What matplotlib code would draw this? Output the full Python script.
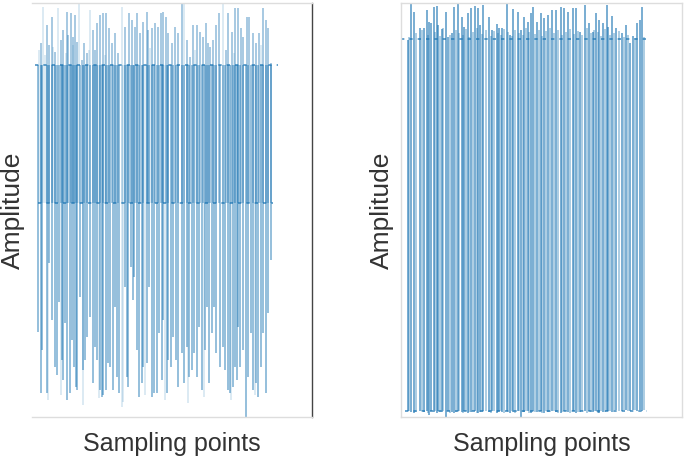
import matplotlib

matplotlib.use("Agg")
import matplotlib.pyplot as plt

plt.rcParams["font.family"] = ["Liberation Sans", "DejaVu Sans"]

# ---- left panel: three-level signal (upper level, middle level, deep troughs)
left_upper_level = 1.40
left_mid_level = 0.02

left_peak_x = [57, 117, 143, 167, 200, 260, 283, 317, 333, 357, 377, 400, 423,
               467, 490, 523, 577, 600, 623, 650, 683, 710, 743, 767, 800, 833,
               900, 943, 967, 1000, 1017, 1050, 1083, 1117, 1133, 1167, 1200,
               1233, 1257, 1283, 1307, 1333, 1367, 1400, 1433, 1467, 1517, 1550,
               1577, 1617, 1650, 1677, 1710, 1733, 1750, 1777, 1810, 1843, 1910,
               1933, 1967, 2000, 2033, 2057, 2083, 2117, 2143, 2183, 2210, 2243,
               2277, 2310, 2333, 2357]
left_peak_amp = [1.62, 1.80, 1.60, 1.88, 1.53, 1.65, 1.75, 1.93, 1.70, 1.92,
                 1.68, 1.90, 1.63, 1.45, 1.62, 1.52, 1.75, 1.55, 1.82, 1.90,
                 1.92, 1.92, 1.77, 1.62, 1.72, 1.52, 1.78, 1.92, 1.85, 1.78,
                 1.92, 1.72, 1.83, 1.93, 1.75, 1.77, 1.82, 1.78, 1.92, 1.93,
                 1.88, 1.72, 1.62, 1.78, 1.72, 2.03, 1.65, 1.48, 1.80, 1.80,
                 1.73, 1.68, 1.82, 1.62, 1.58, 1.65, 1.80, 1.92, 1.55, 1.92,
                 1.73, 1.97, 1.97, 1.77, 1.68, 1.88, 1.88, 1.72, 1.62, 1.72,
                 1.97, 1.85, 1.77, 1.42]
left_faint_peak_x = [83, 233, 440, 550, 867, 1490, 1877, 40, 100, 180, 310,
                     380, 540, 700, 1150, 1600, 1990, 2260]
left_faint_peak_amp = [1.98, 1.97, 2.02, 1.95, 1.98, 2.02, 2.02, 1.55, 1.50,
                       1.58, 1.52, 1.60, 1.55, 1.50, 1.57, 1.55, 1.52, 1.60]

left_trough_x = [33, 57, 67, 117, 143, 167, 200, 223, 243, 267, 283, 300, 317,
                 350, 367, 390, 410, 423, 450, 477, 500, 523, 550, 577, 600,
                 617, 650, 667, 683, 710, 733, 750, 783, 800, 817, 843, 900,
                 917, 933, 957, 977, 990, 1017, 1043, 1067, 1083, 1117, 1143,
                 1167, 1190, 1217, 1243, 1267, 1283, 1317, 1333, 1357, 1383,
                 1410, 1433, 1467, 1490, 1517, 1543, 1567, 1590, 1617, 1643,
                 1667, 1700, 1717, 1743, 1767, 1790, 1810, 1850, 1877, 1900,
                 1933, 1950, 1977, 2000, 2017, 2033, 2050, 2083, 2110, 2133,
                 2157, 2183, 2210, 2233, 2257, 2283, 2310, 2333, 2357]
left_trough_amp = [-1.27, -1.88, -1.45, -1.88, -0.58, -1.15, -1.62, -1.70,
                   -0.97, -1.55, -1.75, -1.18, -1.95, -1.88, -1.35, -1.62,
                   -1.82, -1.85, -0.92, -1.65, -1.55, -1.32, -1.12, -1.78,
                   -1.42, -1.55, -1.85, -1.92, -1.90, -1.85, -1.58, -1.62,
                   -1.85, -1.02, -1.72, -1.88, -0.82, -1.72, -1.82, -0.62,
                   -0.95, -0.72, -1.45, -1.92, -1.78, -1.62, -1.58, -0.82,
                   -1.92, -1.88, -1.88, -1.28, -1.75, -1.15, -1.88, -1.55,
                   -1.62, -1.32, -1.55, -1.82, -1.48, -1.78, -1.42, -1.72,
                   -1.65, -1.48, -1.72, -1.22, -1.85, -1.45, -1.02, -1.78,
                   -1.28, -1.02, -1.48, -1.62, -1.42, -1.65, -1.85, -1.88,
                   -1.82, -1.62, -1.75, -1.22, -1.62, -1.45, -2.12, -1.72,
                   -1.28, -1.85, -1.78, -1.92, -1.62, -1.28, -1.88, -1.08,
                   -0.55]
left_faint_trough_x = [867, 130, 265, 480, 640, 880, 1100, 1300, 1530, 1690,
                       1960, 2200]
left_faint_trough_amp = [-2.02, -1.95, -1.90, -2.00, -1.93, -1.97, -1.90,
                         -1.95, -1.98, -1.92, -1.95, -1.90]
left_span = [0, 2430]
left_mid_span = [30, 2380]

# ---- right panel: two-level signal (upper level with overshoot, lower level)
right_upper_level = 1.865
right_lower_level = -1.855

right_x = [27, 60, 93, 150, 193, 217, 243, 260, 287, 317, 333, 367, 407, 427,
           473, 490, 527, 567, 593, 627, 660, 700, 733, 750, 783, 843, 873,
           917, 940, 973, 1017, 1050, 1083, 1127, 1160, 1193, 1227, 1260, 1277,
           1317, 1357, 1393, 1433, 1467, 1510, 1557, 1593, 1633, 1677, 1710,
           1750, 1800, 1843, 1877, 1910, 1943, 1977, 2017, 2033, 2067, 2110,
           2167, 2210, 2250, 2277, 2323, 2350, 2367]
right_peak = [1.85, 2.22, 2.13, 1.97, 1.97, 2.15, 2.03, 2.02, 2.18, 2.19, 2.00,
              1.96, 2.13, 1.88, 1.92, 2.18, 2.21, 2.08, 1.98, 2.12, 2.17, 2.19,
              2.17, 2.00, 2.20, 2.08, 1.95, 2.01, 1.97, 1.97, 2.22, 1.90, 2.16,
              2.13, 1.95, 2.08, 2.03, 2.12, 2.18, 2.03, 2.12, 2.07, 2.10, 2.15,
              2.15, 2.18, 2.17, 2.13, 2.17, 2.17, 1.93, 2.20, 2.02, 1.93, 2.12,
              2.05, 2.02, 2.20, 1.98, 2.09, 1.97, 1.92, 2.00, 1.82, 1.89, 2.02,
              2.05, 2.18]
right_trough = [-1.86, -1.87, -1.88, -1.86, -1.87, -1.86, -1.90, -1.86, -1.87,
                -1.88, -1.86, -1.87, -1.92, -1.86, -1.87, -1.88, -1.86, -1.87,
                -1.86, -1.88, -1.87, -1.86, -1.88, -1.87, -1.86, -1.87, -1.86,
                -1.88, -1.86, -1.87, -1.86, -1.88, -1.87, -1.86, -1.92, -1.87,
                -1.86, -1.88, -1.86, -1.87, -1.86, -1.88, -1.87, -1.86, -1.87,
                -1.88, -1.86, -1.87, -1.86, -1.88, -1.87, -1.86, -1.86, -1.87,
                -1.86, -1.88, -1.87, -1.86, -1.86, -1.87, -1.85, -1.86, -1.85,
                -1.86, -1.85, -1.86, -1.85, -1.86]
right_fill_x = [40, 110, 170, 230, 300, 350, 385, 450, 510, 545, 580, 610, 645,
                680, 720, 770, 810, 860, 895, 930, 960, 995, 1035, 1070, 1105,
                1145, 1180, 1210, 1245, 1300, 1340, 1375, 1415, 1450, 1490,
                1535, 1575, 1615, 1655, 1695, 1730, 1775, 1820, 1860, 1895,
                1930, 1960, 2000, 2050, 2090, 2140, 2190, 2230, 2300, 2390]
right_fill_peak = [1.88, 1.92, 1.95, 1.90, 1.93, 1.89, 1.97, 1.90, 1.95, 1.92,
                   1.90, 1.96, 1.88, 1.93, 1.97, 1.91, 1.95, 1.89, 1.94, 1.92,
                   1.90, 1.96, 1.93, 1.89, 1.95, 1.92, 1.90, 1.97, 1.93, 1.91,
                   1.95, 1.89, 1.94, 1.97, 1.92, 1.95, 1.90, 1.93, 1.96, 1.91,
                   1.94, 1.90, 1.97, 1.92, 1.95, 1.93, 1.89, 1.96, 1.90, 1.92,
                   1.94, 1.88, 1.90, 1.87, 1.88]
right_fill_trough = [-1.86, -1.87, -1.86, -1.88, -1.86, -1.87, -1.86, -1.88,
                     -1.87, -1.86, -1.88, -1.86, -1.87, -1.86, -1.88, -1.87,
                     -1.86, -1.88, -1.86, -1.87, -1.86, -1.88, -1.87, -1.86,
                     -1.88, -1.86, -1.87, -1.86, -1.88, -1.87, -1.86, -1.88,
                     -1.86, -1.87, -1.86, -1.88, -1.87, -1.86, -1.88, -1.86,
                     -1.87, -1.86, -1.88, -1.87, -1.86, -1.88, -1.86, -1.87,
                     -1.86, -1.85, -1.86, -1.85, -1.86, -1.85, -1.85]
right_span = [-40, 2430]
right_low_span = [0, 2420]

blue = "#1f77b4"
text_col = "#333333"

fig = plt.figure(figsize=(6.85, 4.62), dpi=100)
ax1 = fig.add_axes([0.0467, 0.0974, 0.4088, 0.8961])
ax2 = fig.add_axes([0.5854, 0.0974, 0.4102, 0.8961])

# left
ax1.vlines(left_peak_x, left_mid_level, left_peak_amp, colors=blue, lw=1.1, alpha=0.5)
ax1.vlines(left_faint_peak_x, left_mid_level, left_faint_peak_amp, colors=blue,
           lw=1.1, alpha=0.2)
ax1.vlines(left_trough_x, left_trough_amp, left_upper_level, colors=blue, lw=1.1,
           alpha=0.6)
ax1.vlines(left_faint_trough_x, left_faint_trough_amp, left_upper_level,
           colors=blue, lw=1.1, alpha=0.2)
ax1.plot(left_span, [left_upper_level] * 2, color=blue, lw=1.2, alpha=0.8,
         ls=(0, (2, 3)))
ax1.plot(left_mid_span, [left_mid_level] * 2, color=blue, lw=1.2, alpha=0.8,
         ls=(0, (2, 3)))
ax1.set_xlim(-30, 2770)
ax1.set_ylim(-2.12, 2.02)

# right
ax2.vlines(right_x, right_trough, right_peak, colors=blue, lw=1.4, alpha=0.6)
ax2.vlines(right_fill_x, right_fill_trough, right_fill_peak, colors=blue, lw=1.3,
           alpha=0.4)
ax2.plot(right_span, [right_upper_level] * 2, color=blue, lw=1.2, alpha=0.8,
         ls=(0, (2, 3)))
ax2.plot(right_low_span, [right_lower_level] * 2, color=blue, lw=1.2, alpha=0.8,
         ls=(0, (2, 3)))
ax2.set_xlim(-40, 2770)
ax2.set_ylim(-1.92, 2.22)

for ax in (ax1, ax2):
    ax.set_xticks([])
    ax.set_yticks([])
    for s in ax.spines.values():
        s.set_color("#dddddd")
        s.set_linewidth(1.0)
    ax.set_xlabel("Sampling points", fontsize=18, color=text_col, labelpad=11)
    ax.set_ylabel("Amplitude", fontsize=19, color=text_col, labelpad=5)

ax1.spines["left"].set_visible(False)
ax1.spines["right"].set_color("#444444")

fig.savefig("out.png", dpi=100, facecolor="white")
